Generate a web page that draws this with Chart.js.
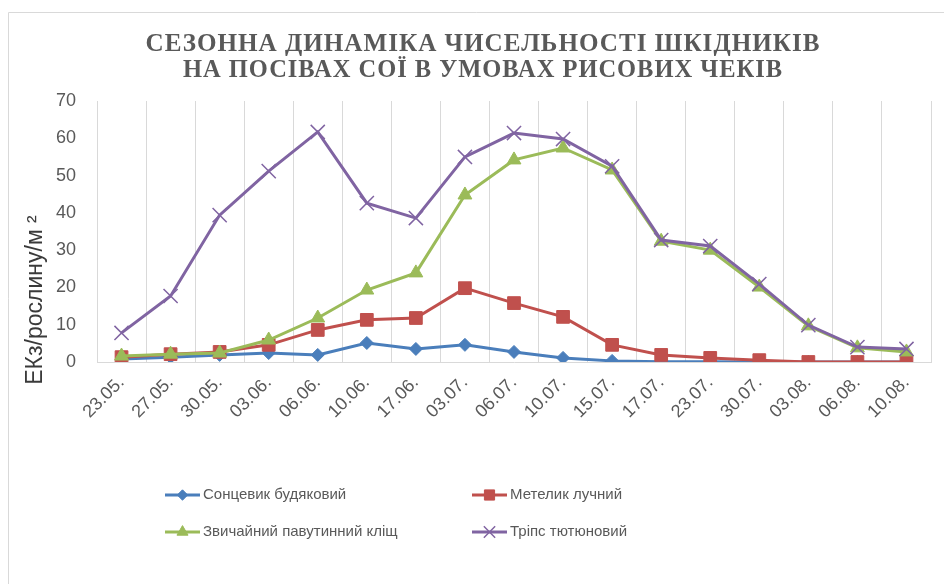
<!DOCTYPE html>
<html>
<head>
<meta charset="utf-8">
<script src="https://cdn.jsdelivr.net/npm/chart.js@4"></script>
<style>
  html, body { margin: 0; padding: 0; background: #fff; }
  #wrap { position: relative; width: 944px; height: 584px; }
</style>
</head>
<body>
<div id="wrap"><canvas id="pestChart" width="944" height="584"></canvas></div>
<script>
const dates = ["23.05.", "27.05.", "30.05.", "03.06.", "06.06.", "10.06.", "17.06.", "03.07.", "06.07.",
               "10.07.", "15.07.", "17.07.", "23.07.", "30.07.", "03.08.", "06.08.", "10.08."];
const sontsevyk = [0.8, 1.3, 1.9, 2.4, 1.9, 5.1, 3.5, 4.6, 2.7, 1.1, 0.3, 0.1, 0.1, 0, 0, 0, 0];
const metelyk   = [1.3, 2.1, 2.7, 4.6, 8.6, 11.3, 11.8, 19.8, 15.8, 12.1, 4.6, 1.9, 1.1, 0.5, 0, 0, 0];
const klishch   = [1.6, 2.1, 2.4, 5.9, 11.8, 19.3, 23.9, 44.8, 54.2, 57.4, 51.5, 32.4, 30.0, 20.1, 9.7, 3.8, 2.7];
const trips     = [7.8, 17.7, 39.4, 51.2, 61.7, 42.6, 38.6, 55.0, 61.4, 59.8, 52.5, 32.7, 31.1, 20.9, 9.9, 4.0, 3.5];
const seriesNames = ["Сонцевик будяковий", "Метелик лучний", "Звичайний павутинний кліщ", "Тріпс тютюновий"];
const yTicks = [0, 10, 20, 30, 40, 50, 60, 70];
const titleLines = ["СЕЗОННА ДИНАМІКА ЧИСЕЛЬНОСТІ ШКІДНИКІВ", "НА ПОСІВАХ СОЇ В УМОВАХ РИСОВИХ ЧЕКІВ"];
const yTitle = "ЕКз/рослину/м ²";

const textGrey = "#595959";

// title, y axis title, frame and 2x2 legend
const decor = {
    id: "decor",
    afterDraw(chart) {
        const ctx = chart.ctx;
        ctx.save();
        // frame
        ctx.strokeStyle = "#d9d9d9";
        ctx.lineWidth = 1;
        ctx.beginPath();
        ctx.moveTo(8.5, 584);
        ctx.lineTo(8.5, 12.5);
        ctx.lineTo(944, 12.5);
        ctx.stroke();

        // title: tall condensed letters, squeezed to the reference width
        ctx.fillStyle = textGrey;
        ctx.font = "bold 25px 'Liberation Serif'";
        ctx.textAlign = "center";
        ctx.textBaseline = "alphabetic";
        ctx.letterSpacing = "1px";
        const targets = [675, 600];
        const bases = [51, 77];
        titleLines.forEach((t, i) => {
            const w = ctx.measureText(t).width;
            ctx.save();
            ctx.translate(483, bases[i]);
            ctx.scale(targets[i] / w, 1);
            ctx.fillText(t, 0, 0);
            ctx.restore();
        });
        ctx.letterSpacing = "0px";

        // y title
        ctx.save();
        ctx.translate(36, 300);
        ctx.rotate(-Math.PI / 2);
        ctx.fillStyle = "#3a3a3a";
        ctx.font = "23px 'Liberation Sans'";
        ctx.textAlign = "center";
        ctx.textBaseline = "middle";
        ctx.fillText(yTitle, 0, 0);
        ctx.restore();

        // legend
        const spots = [[165, 495], [472, 495], [165, 532], [472, 532]];
        chart.data.datasets.forEach((ds, i) => {
            const x = spots[i][0], y = spots[i][1];
            ctx.strokeStyle = ds.borderColor;
            ctx.fillStyle = ds.borderColor;
            ctx.lineWidth = 3;
            ctx.beginPath();
            ctx.moveTo(x, y);
            ctx.lineTo(x + 35, y);
            ctx.stroke();
            ctx.lineWidth = ds.pointBorderWidth;
            Chart.helpers.drawPoint(ctx, {
                pointStyle: ds.pointStyle,
                radius: ds.pointRadius * 0.8,
                borderWidth: ds.pointBorderWidth,
                rotation: 0
            }, x + 17.5, y);
            ctx.fillStyle = textGrey;
            ctx.font = "15px 'Liberation Sans'";
            ctx.textAlign = "left";
            ctx.textBaseline = "middle";
            ctx.fillText(seriesNames[i], x + 38, y);
        });
        ctx.restore();
    }
};

function series(label, data, color, style, radius, order, pbw) {
    return {
        label: label,
        data: data,
        borderColor: color,
        backgroundColor: color,
        pointBackgroundColor: color,
        pointBorderColor: color,
        borderWidth: 3,
        pointStyle: style,
        pointRadius: radius,
        pointHoverRadius: radius,
        pointBorderWidth: pbw,
        tension: 0,
        order: order
    };
}

new Chart("pestChart", {
    type: "line",
    data: {
        labels: dates,
        datasets: [
            series(seriesNames[0], sontsevyk, "#4a7ebb", "rectRot", 6.5, 4, 1),
            series(seriesNames[1], metelyk, "#c0504d", "rect", 9, 3, 1),
            series(seriesNames[2], klishch, "#9bbb59", "triangle", 8, 2, 1),
            series(seriesNames[3], trips, "#8064a2", "crossRot", 10, 1, 1.5)
        ]
    },
    options: {
        responsive: false,
        animation: false,
        layout: { padding: { top: 101, right: 13, left: 0, bottom: 0 } },
        plugins: {
            legend: { display: false },
            title: { display: false },
            tooltip: { enabled: false }
        },
        scales: {
            x: {
                offset: true,
                afterFit: (s) => { s.height = 222; },
                grid: { display: true, offset: true, color: "#d9d9d9", lineWidth: 1, drawTicks: false },
                border: { display: true, color: "#d9d9d9", width: 1 },
                ticks: {
                    color: textGrey,
                    font: { family: "Liberation Sans", size: 18 },
                    minRotation: 45,
                    maxRotation: 45,
                    autoSkip: false,
                    padding: 10
                }
            },
            y: {
                min: 0,
                max: 70,
                afterFit: (s) => { s.width = 97; },
                afterBuildTicks: (s) => { s.ticks = yTicks.map(v => ({ value: v })); },
                grid: { display: false },
                border: { display: false },
                ticks: {
                    color: textGrey,
                    font: { family: "Liberation Sans", size: 18 },
                    padding: 13
                }
            }
        }
    },
    plugins: [decor]
});
</script>
</body>
</html>
